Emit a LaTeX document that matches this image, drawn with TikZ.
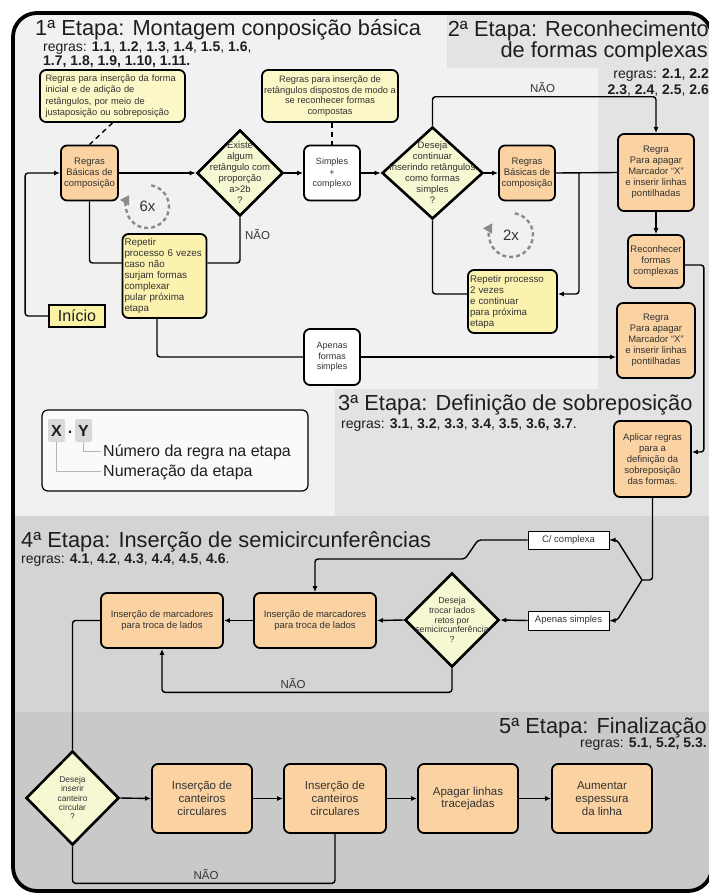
\documentclass[tikz,border=0pt]{standalone}
\usepackage{fontspec}
\setmainfont{Liberation Sans}
\usetikzlibrary{shapes.geometric,arrows.meta,calc}
\definecolor{bgA}{HTML}{F1F1F1}
\definecolor{bgB}{HTML}{E3E3E3}
\definecolor{bgC}{HTML}{D4D4D4}
\definecolor{bgD}{HTML}{C9C9C9}
\definecolor{orng}{HTML}{FBD3A2}
\definecolor{note}{HTML}{FBF7C6}
\definecolor{rep}{HTML}{FBF2B0}
\definecolor{dec}{HTML}{F5F8D2}
\definecolor{txt}{HTML}{333333}
\definecolor{ttl}{HTML}{1E1E1E}
\definecolor{circg}{HTML}{8A8A8A}
\definecolor{inifill}{HTML}{FAF3A6}
\definecolor{legfill}{HTML}{FAFAFA}
\definecolor{keyg}{HTML}{D9D9D9}
\definecolor{keyln}{HTML}{B5B5B5}
\newcommand{\myfs}[2]{\fontsize{#1}{#2}\selectfont}
\begin{document}
\begin{tikzpicture}[x=1pt,y=-1pt,
  bx/.style={draw, line width=1.8pt, rounded corners=6pt, align=center, text=txt, inner sep=1pt, font=\myfs{9.5}{11}},
  obx/.style={bx, fill=orng},
  nbx/.style={bx, fill=note, font=\myfs{9.3}{11.3}},
  rbx/.style={bx, fill=rep, align=left, inner xsep=2pt, font=\myfs{9.8}{11.1}},
  wbx/.style={bx, fill=white},
  dia/.style={draw, diamond, line width=2.6pt, fill=dec, inner sep=0pt},
  dtx/.style={align=center, text=txt, inner sep=0pt, font=\myfs{9.5}{11}},
  sbx/.style={draw, line width=1pt, fill=white, inner sep=0pt, text=txt, font=\myfs{9.5}{11}},
  ln/.style={line width=1.4pt, rounded corners=3pt},
  arr/.style={ln, -{Latex[length=6pt,width=5pt]}},
  circ/.style={draw=circg, line width=2.4pt, dash pattern=on 4pt off 3pt, -{Triangle[length=9pt,width=10pt]}},
  lab/.style={font=\myfs{11.5}{12}, text=txt, inner sep=0pt},
  ttlA/.style={font=\myfs{21.8}{24}, text=ttl, inner sep=0pt},
  rgl/.style={font=\myfs{14}{16}, text=ttl, inner sep=0pt}
]
\useasboundingbox (0,0) rectangle (709,894);
% backgrounds
\begin{scope}
\clip[rounded corners=24pt] (13,13) rectangle (712,891);
\fill[bgA] (0,0) rectangle (709,894);
\fill[bgB] (447,0) -- (709,0) -- (709,516) -- (335,516) -- (335,389) -- (598,389) -- (598,68) -- (447,68) -- cycle;
\fill[bgC] (0,516) rectangle (709,712);
\fill[bgD] (0,712) rectangle (709,894);
\end{scope}
\draw[line width=3.8pt, rounded corners=24pt] (13,13) rectangle (712,891);

% titles
\node[ttlA, anchor=base west] (t1) at (35,35) {1ª Etapa: Montagem conposição básica};
\node[rgl, anchor=base west] (g1a) at (43,51) {regras: \textbf{1.1}, \textbf{1.2}, \textbf{1.3}, \textbf{1.4}, \textbf{1.5}, \textbf{1.6},};
\node[rgl, anchor=base west] (g1b) at (43,65) {\textbf{1.7, 1.8, 1.9, 1.10, 1.11.}};
\node[ttlA, anchor=base east] (t2a) at (709,36) {2ª Etapa: Reconhecimento};
\node[ttlA, anchor=base east] (t2b) at (708,57) {de formas complexas};
\node[rgl, anchor=base east] (g2a) at (709,78) {regras: \textbf{2.1}, \textbf{2.2}};
\node[rgl, anchor=base east] (g2b) at (709,94) {\textbf{2.3}, \textbf{2.4}, \textbf{2.5}, \textbf{2.6}};
\node[ttlA, anchor=base west] (t3) at (338,410) {3ª Etapa: Definição de sobreposição};
\node[rgl, anchor=base west] (g3) at (341,428) {regras: \textbf{3.1}, \textbf{3.2}, \textbf{3.3}, \textbf{3.4}, \textbf{3.5}, \textbf{3.6, 3.7}.};
\node[ttlA, anchor=base west] (t4) at (21,547) {4ª Etapa: Inserção de semicircunferências};
\node[rgl, anchor=base west] (g4) at (21,563) {regras: \textbf{4.1}, \textbf{4.2}, \textbf{4.3}, \textbf{4.4}, \textbf{4.5}, \textbf{4.6}.};
\node[ttlA, anchor=base east] (t5) at (707,733) {5ª Etapa: Finalização};
\node[rgl, anchor=base east] (g5) at (707,747) {regras: \textbf{5.1}, \textbf{5.2, 5.3.}};

% stage 1 nodes
\node[nbx, minimum width=145pt, minimum height=52pt, text width=134pt, align=left] (n1) at (112.5,96)
  {Regras para inserção da forma\\\makebox[134pt][s]{inicial e de adição de}\\\makebox[134pt][s]{retângulos, por meio de}\\justaposição ou sobreposição};
\node[nbx, minimum width=136pt, minimum height=52pt, font=\myfs{9.3}{10.8}] (n2) at (330,96)
  {Regras para inserção de\\retângulos dispostos de modo a\\se reconhecer formas\\compostas};
\node[obx, minimum width=57pt, minimum height=55pt] (rb1) at (89.5,173) {Regras\\Básicas de\\composição};
\node[dia, minimum width=86pt, minimum height=86pt] (d1) at (240,173) {};
\node[dtx] (d1t) at (d1) {Existe\\algum\\retângulo com\\proporção\\a>2b\\?};
\node[wbx, minimum width=56pt, minimum height=55pt, font=\myfs{9}{11}] (sc) at (332,173) {Simples\\+\\complexo};
\node[dia, minimum width=101pt, minimum height=92pt] (d2) at (432.5,173) {};
\node[dtx] (d2t) at (d2) {Deseja\\continuar\\inserindo retângulos\\como formas\\simples\\?};
\node[obx, minimum width=56pt, minimum height=55pt] (rb2) at (527,173) {Regras\\Básicas de\\composição};
\node[rbx, text width=80pt, minimum height=84pt] (rep1) at (164.5,276)
  {Repetir\\processo 6 vezes\\caso não\\surjam formas\\complexar\\pular próxima\\etapa};
\node[rbx, text width=85pt, minimum height=63pt, font=\myfs{9.7}{11}] (rep2) at (512.5,301.5)
  {Repetir processo\\2 vezes\\e continuar\\para próxima\\etapa};
\node[wbx, minimum width=56pt, minimum height=56pt, font=\myfs{9}{10.5}] (af) at (332,357) {Apenas\\formas\\simples};
\node[draw, line width=1.8pt, fill=inifill, minimum width=56pt, minimum height=22pt, inner sep=0pt, font=\myfs{16}{16}, text=ttl] (ini) at (77,316) {Início};

% circles
\node[font=\myfs{15}{15}, text=txt, inner sep=0pt] (c6) at (147.5,206.5) {6x};
\draw[circ] ($(c6.center)+(80:21.5pt)$) arc[start angle=80, end angle=-212, radius=21.5pt];
\node[font=\myfs{15}{15}, text=txt, inner sep=0pt] (c2) at (511,235) {2x};
\draw[circ] ($(c2.center)+(80:22pt)$) arc[start angle=80, end angle=-212, radius=22pt];

% stage 2 nodes
\node[obx, minimum width=76pt, minimum height=77pt] (r1) at (656,172.5) {Regra\\Para apagar\\Marcador “X”\\e inserir linhas\\pontilhadas};
\node[obx, minimum width=56pt, minimum height=53pt] (rc) at (656,261.5) {Reconhecer\\formas\\complexas};
\node[obx, minimum width=78pt, minimum height=75pt] (r2) at (656,340.5) {Regra\\Para apagar\\Marcador “X”\\e inserir linhas\\pontilhadas};
% stage 3
\node[obx, minimum width=77pt, minimum height=76pt] (apl) at (652.5,459) {Aplicar regras\\para a\\definição da\\sobreposição\\das formas.};

% legend
\node[draw, line width=1.2pt, rounded corners=6pt, fill=legfill, minimum width=266pt, minimum height=81pt] (leg) at (175,450.5) {};
\node[fill=keyg, rounded corners=2pt, font=\bfseries\myfs{16}{16}, minimum width=17pt, minimum height=23pt, inner sep=0pt, text=ttl] (kx) at (56.5,430.5) {X};
\node[font=\bfseries\myfs{16}{16}, inner sep=0pt, text=ttl] (kd) at (70,432) {.};
\node[fill=keyg, rounded corners=2pt, font=\bfseries\myfs{16}{16}, minimum width=17pt, minimum height=23pt, inner sep=0pt, text=ttl] (ky) at (83.5,430.5) {Y};
\node[anchor=base west, font=\myfs{16}{16}, text=ttl, inner sep=0pt] (l1) at (103,456) {Número da regra na etapa};
\node[anchor=base west, font=\myfs{16}{16}, text=ttl, inner sep=0pt] (l2) at (103,476) {Numeração da etapa};
\draw[keyln, line width=1pt] (kx.south) |- ([xshift=-2pt]l2.west);
\draw[keyln, line width=1pt] (ky.south) |- ([xshift=-2pt]l1.west);

% stage 4 nodes
\node[sbx, minimum width=81pt, minimum height=18pt] (cc) at (568.5,540) {C/ complexa};
\node[sbx, minimum width=81pt, minimum height=19pt] (as) at (568.5,620.5) {Apenas simples};
\node[dia, minimum width=94pt, minimum height=94pt] (d3) at (452,620) {};
\node[dtx, font=\myfs{8.8}{9.6}] (d3t) at (d3) {Deseja\\trocar lados\\retos por\\semicircunferência\\?};
\node[obx, minimum width=122pt, minimum height=55pt, font=\myfs{9.5}{11.7}] (m2) at (315,620.5) {Inserção de marcadores\\para troca de lados};
\node[obx, minimum width=122pt, minimum height=55pt, font=\myfs{9.5}{11.7}] (m1) at (162,620.5) {Inserção de marcadores\\para troca de lados};

% stage 5 nodes
\node[dia, minimum width=93pt, minimum height=94pt] (d4) at (72.5,798) {};
\node[dtx, font=\myfs{8.4}{9.4}] (d4t) at (d4) {Deseja\\inserir\\canteiro\\circular\\?};
\node[obx, minimum width=100pt, minimum height=69pt, font=\myfs{11.5}{12.8}] (k1) at (202,798.5) {Inserção de\\canteiros\\circulares};
\node[obx, minimum width=102pt, minimum height=69pt, font=\myfs{11.5}{12.8}] (k2) at (335,798.5) {Inserção de\\canteiros\\circulares};
\node[obx, minimum width=100pt, minimum height=69pt, font=\myfs{11.5}{12.8}] (ap) at (468,798.5) {Apagar linhas\\tracejadas};
\node[obx, minimum width=100pt, minimum height=69pt, font=\myfs{11.5}{12.8}] (au) at (602,798.5) {Aumentar\\espessura\\da linha};

% dashed note links
\draw[line width=1.4pt, dash pattern=on 5pt off 4pt] (n1.south) -- (rb1.north);
\draw[line width=1.4pt, dash pattern=on 5pt off 4pt] (n2.south -| sc.north) -- (sc.north);

% connectors stage 1-2
\draw[arr] (ini.west) -- ++(-23,0) |- (rb1.west);
\draw[arr] (rb1.east) -- (d1.west);
\draw[arr] (d1.east) -- (sc.west);
\draw[arr] (sc.east) -- (d2.west);
\draw[arr] (d2.east) -- (rb2.west);
\draw[ln] (rb2.east) -- (r1.west);
\coordinate (j1) at (579,173);
\draw[arr] (j1) |- ([yshift=7.5pt]rep2.east);
\draw[ln] (d2.south) |- ([yshift=7.5pt]rep2.west);
\draw[ln] (rb1.south) |- ([yshift=13pt]rep1.west);
\draw[ln] (d1.south) |- ([yshift=13pt]rep1.east);
\node[lab] (nao1) at (257.5,235) {NÃO};
\draw[ln] ([xshift=-7.5pt]rep1.south) |- (af.west);
\draw[arr] (af.east) -- (af.east -| r2.west);
\draw[arr] (d2.north) -- ++(0,-29) -| (r1.north);
\node[lab] (nao2) at (542.5,88) {NÃO};
\draw[arr] (r1.south) -- (rc.north);
\draw[arr] ([yshift=-3.5pt]rc.east) -- ++(19,0) |- ([yshift=7pt]apl.east);

% connectors stage 3-4
\coordinate (br) at (642,580);
\draw[ln] (apl.south) |- (br);
\draw[arr] (br) -- (617,540) -- (cc.east);
\draw[arr] (br) -- (617,620.5) -- (as.east);
\draw[arr] (cc.west) -- (478,540) -- (465,559) -| (m2.north);
\draw[arr] (as.west) -- (d3.east);
\draw[arr] (d3.west) -- (m2.east);
\draw[arr] (m2.west) -- (m1.east);
\draw[arr] (d3.south) -- ++(0,24) -| (m1.south);
\node[lab] (nao3) at (293,683) {NÃO};
\draw[ln] (m1.west) -| (d4.north);

% connectors stage 5
\draw[arr] (d4.east) -- (k1.west);
\draw[arr] (k1.east) -- (k2.west);
\draw[arr] (k2.east) -- (ap.west);
\draw[arr] (ap.east) -- (au.west);
\draw[ln] (d4.south) -- ++(0,37) -| (k2.south);
\node[lab] (nao4) at (206,874) {NÃO};
\end{tikzpicture}
\end{document}
